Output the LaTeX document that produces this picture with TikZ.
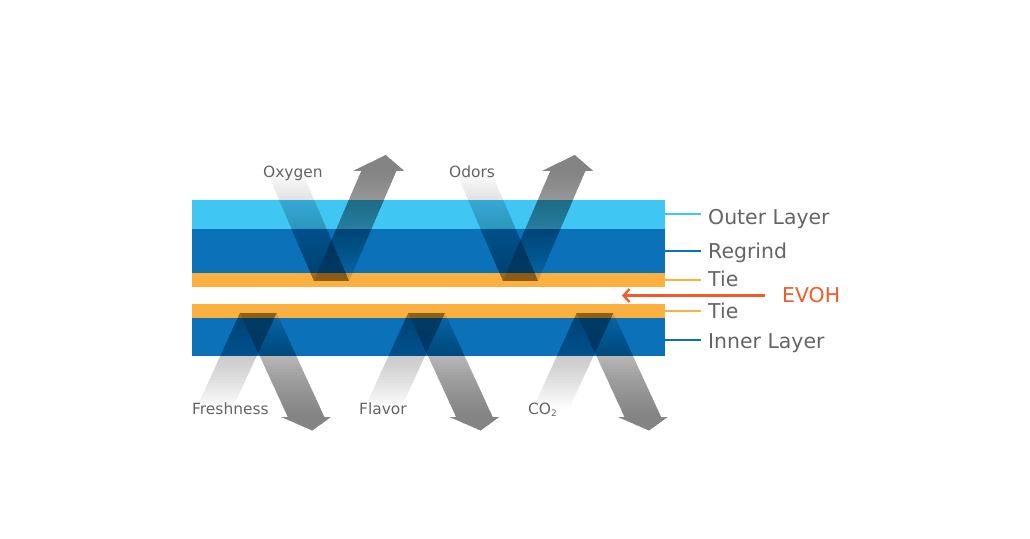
\documentclass[tikz,border=0pt]{standalone}
\usepackage{fontspec}
\setmainfont{DejaVu Sans}
\usetikzlibrary{arrows.meta}
\definecolor{outerc}{HTML}{3FC6F3}
\definecolor{regrindc}{HTML}{0B72BA}
\definecolor{tiec}{HTML}{FBB040}
\definecolor{evohc}{HTML}{F15A29}
\definecolor{txtgray}{HTML}{646466}
\begin{document}
\begin{tikzpicture}[x=1bp,y=-1bp,
  layer/.style={rectangle, inner sep=0pt, minimum width=473bp, draw=none},
  veil/.style={fill=black, draw=none, fill opacity=#1},
  biglbl/.style={anchor=base west, inner sep=0pt, text=txtgray, font=\fontsize{20.5}{24}\selectfont},
  smalllbl/.style={anchor=base west, inner sep=0pt, text=txtgray, font=\fontsize{15.5}{18}\selectfont},
  lead/.style={line width=2bp}
]
\path[use as bounding box] (0,0) rectangle (1030,539);

% layers
\node[layer, fill=outerc,   minimum height=29bp] (outer)   at (428.5,214.5) {};
\node[layer, fill=regrindc, minimum height=44bp] (regrind) at (428.5,251) {};
\node[layer, fill=tiec,     minimum height=14bp] (tieA)    at (428.5,280) {};
\node[layer, fill=tiec,     minimum height=14bp] (tieB)    at (428.5,311) {};
\node[layer, fill=regrindc, minimum height=38bp] (inner)   at (428.5,337) {};

% top V bands: incoming from upper left (fading out upward), outgoing arrow to upper right
\foreach \a in {314,503} {
  \begin{scope}[shift={(\a,281)}, xslant=-0.43]
    \foreach \k in {1,...,35} {
      \pgfmathsetmacro{\L}{110*\k/35}
      \path[veil=0.0122] (0,0) rectangle (35,-\L);
    }
  \end{scope}
  \begin{scope}[shift={(\a,281)}, xslant=0.43]
    \path[veil=0.10] (0,0) -- (35,0) -- (35,-110) -- (43,-110) -- (17.5,-126) -- (-8,-110) -- (0,-110) -- cycle;
    \foreach \k in {1,...,36} {
      \pgfmathsetmacro{\D}{110*\k/37}
      \path[veil=0.0146] (0,-\D) -- (35,-\D) -- (35,-110) -- (43,-110) -- (17.5,-126) -- (-8,-110) -- (0,-110) -- cycle;
    }
  \end{scope}
}
% bottom V bands: incoming from lower left (fading out downward), outgoing arrow to lower right
\foreach \a in {240,408.3,576.7} {
  \begin{scope}[shift={(\a,313)}, xslant=0.46]
    \foreach \k in {1,...,33} {
      \pgfmathsetmacro{\L}{96*\k/33}
      \path[veil=0.0121] (0,0) rectangle (36.5,\L);
    }
  \end{scope}
  \begin{scope}[shift={(\a,313)}, xslant=-0.46]
    \path[veil=0.10] (0,0) -- (36.5,0) -- (36.5,104) -- (43,104) -- (18.25,117.5) -- (-6.5,104) -- (0,104) -- cycle;
    \foreach \k in {1,...,36} {
      \pgfmathsetmacro{\D}{104*\k/37}
      \path[veil=0.0146] (0,\D) -- (36.5,\D) -- (36.5,104) -- (43,104) -- (18.25,117.5) -- (-6.5,104) -- (0,104) -- cycle;
    }
  \end{scope}
}

% small labels
\node[smalllbl] (oxy)   at (263,178) {Oxygen};
\node[smalllbl] (odors) at (449,178) {Odors};
\node[smalllbl] (fresh) at (192,414) {Freshness};
\node[smalllbl] (flav)  at (359,414) {Flavor};
\node[smalllbl] (co2)   at (528,414) {CO\raisebox{-0.35ex}{\fontsize{9}{10}\selectfont 2}};

% layer labels
\node[biglbl] (louter)   at (708,224.3) {Outer Layer};
\node[biglbl] (lregrind) at (708,258.5) {Regrind};
\node[biglbl] (ltieA)    at (708,287)   {Tie};
\node[biglbl] (ltieB)    at (708,318.3) {Tie};
\node[biglbl] (linner)   at (708,348.3) {Inner Layer};
\node[anchor=west, inner sep=0pt, text=evohc, font=\fontsize{20.5}{24}\selectfont] (evoh) at (782,295.5) {EVOH};

% leader lines
\draw[lead, outerc]   (outer.east)   -- ++(36,0);
\draw[lead, regrindc] (regrind.east) -- ++(36,0);
\draw[lead, tiec]     (tieA.east)    -- ++(36,0);
\draw[lead, tiec]     (tieB.east)    -- ++(36,0);
\draw[lead, regrindc] ([yshift=-3bp]inner.east) -- ++(36,0);

% EVOH arrow
\coordinate (evohtip) at (622,295.5);
\draw[evohc, line width=2.2bp, -{Straight Barb[length=6bp,width=13bp]}] ([xshift=-17bp]evoh.west) -- (evohtip);
\end{tikzpicture}
\end{document}
